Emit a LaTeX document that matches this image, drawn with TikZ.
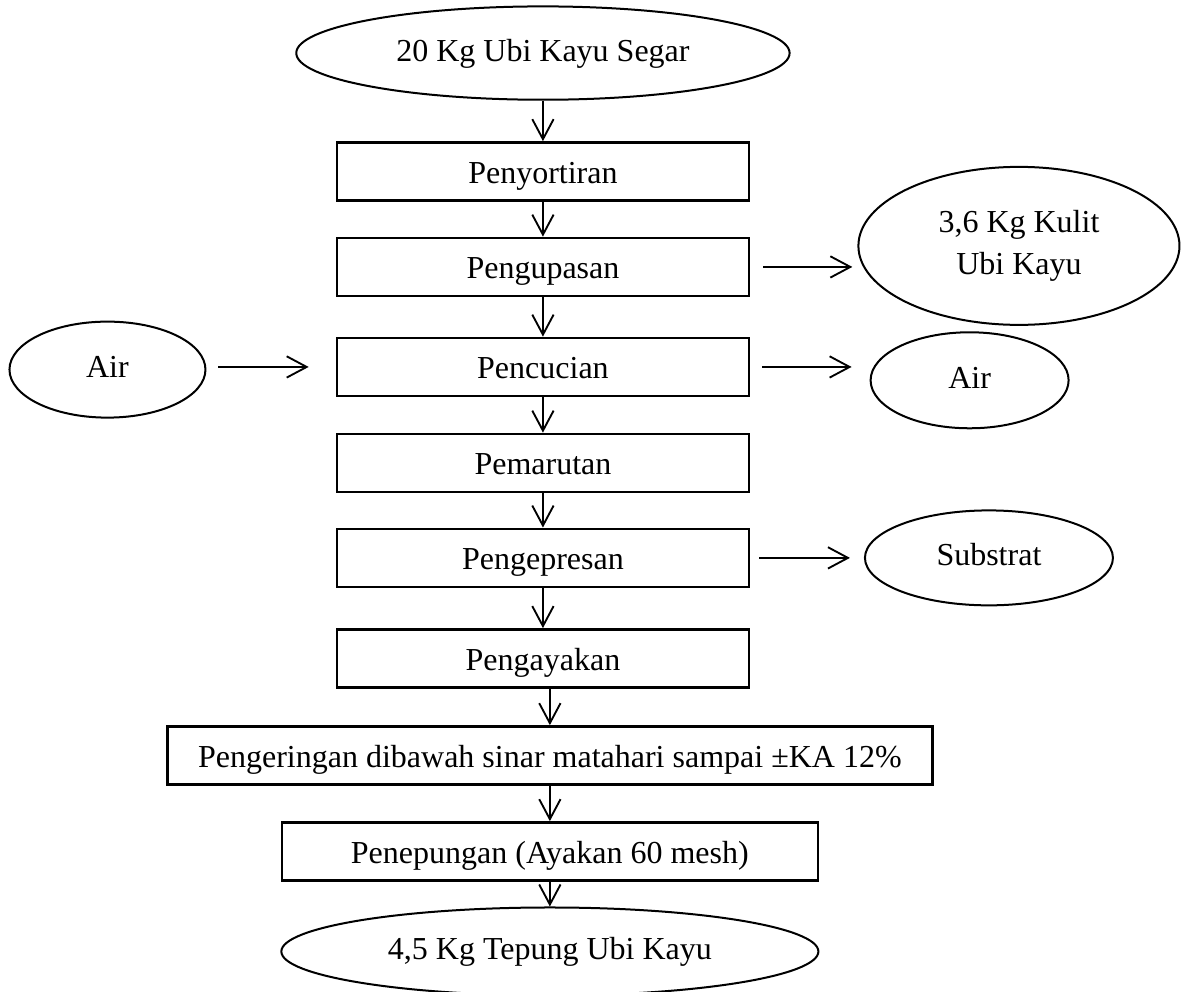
\documentclass[tikz,border=0pt]{standalone}
\usepackage{fontspec}
\setmainfont{Liberation Serif}
\usetikzlibrary{arrows.meta, shapes.geometric, positioning}

\begin{document}
\begin{tikzpicture}[on grid, node distance=36pt, line width=0.75pt,
   font=\fontsize{12}{15.4}\selectfont,
   proses/.style={draw, rectangle, line width=1pt, minimum width=154.5pt, minimum height=21.75pt,
      inner sep=0pt, text height=9pt, text depth=0pt},
   bahan/.style={draw, ellipse, inner sep=0pt, text height=6pt, text depth=0pt},
   arr/.style={line width=0.7pt, -{Straight Barb[length=7.5pt,width=8pt]}}]
   \useasboundingbox (0,0) rectangle (445.125pt,-371.625pt);
   \node[bahan, minimum width=185pt, minimum height=35pt] (segar) at (203.6pt,-19.9pt) {20 Kg Ubi Kayu Segar};
   \node[proses] (sortir) [below=44.4pt of segar] {Penyortiran};
   \node[proses] (kupas) [below=35.8pt of sortir] {Pengupasan};
   \node[proses] (cuci) [below=37.5pt of kupas] {Pencucian};
   \node[proses] (parut) [below=36pt of cuci] {Pemarutan};
   \node[proses] (pres) [below=35.6pt of parut] {Pengepresan};
   \node[proses] (ayak) [below=37.7pt of pres] {Pengayakan};
   \node[proses, minimum width=287pt] (kering) [below=36.4pt of ayak, xshift=2.6pt] {Pengeringan dibawah sinar matahari sampai ±KA 12\%};
   \node[proses, minimum width=201pt] (tepung) [below=36pt of kering] {Penepungan (Ayakan 60 mesh)};
   \node[bahan, minimum width=201.4pt, minimum height=33pt] (hasil) [below=37.5pt of tepung] {4,5 Kg Tepung Ubi Kayu};
   \node[draw, ellipse, inner sep=0pt, align=center, minimum width=120.4pt, minimum height=59.25pt] (kulit) [above right=7.9pt and 178.5pt of kupas] {3,6 Kg Kulit\\Ubi Kayu};
   \node[bahan, minimum width=74.25pt, minimum height=36pt] (airkeluar) [below right=5pt and 160pt of cuci] {Air};
   \node[bahan, minimum width=93pt, minimum height=35.6pt] (substrat) [right=167.25pt of pres] {Substrat};
   \node[bahan, minimum width=73.5pt, minimum height=36pt] (airmasuk) [below left=1pt and 163.3pt of cuci] {Air};
   \path[arr]
   (segar) edge (sortir)
   (sortir) edge (kupas)
   (kupas) edge (cuci)
   (cuci) edge (parut)
   (parut) edge (pres)
   (pres) edge (ayak)
   (kering.north |- ayak.south) edge (kering.north)
   (kering) edge (tepung)
   (tepung) edge (hasil)
   (kupas.east) edge [shorten <=4.9pt, shorten >=1.9pt] (kupas.east -| kulit.west)
   (cuci.east) edge [shorten <=4.5pt, shorten >=6.75pt] (cuci.east -| airkeluar.west)
   (pres.east) edge [shorten <=3.4pt, shorten >=5.25pt] (pres.east -| substrat.west)
   (airmasuk.east |- cuci.west) edge [shorten <=4.5pt, shorten >=10.1pt] (cuci.west);
\end{tikzpicture}
\end{document}
